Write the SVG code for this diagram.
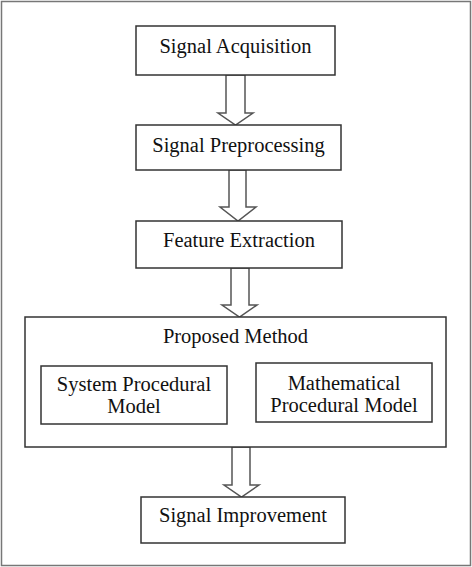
<svg xmlns="http://www.w3.org/2000/svg" width="472" height="567" viewBox="0 0 472 567">
<style>
.box{fill:#fff;stroke:#333;stroke-width:1.5}
.arr{fill:#fff;stroke:#555;stroke-width:1.5;stroke-linejoin:miter}
text{font-family:"Liberation Serif","Times New Roman",serif;font-size:20.5px;fill:#111;text-anchor:middle}
</style>
<rect x="1.5" y="1.5" width="469" height="564" fill="#fff" stroke="#777" stroke-width="1.5"/>
<g id="connectors">
<polygon class="arr" points="226,75 245,75 245,113 253,113 235.5,125 218,113 226,113"/>
<polygon class="arr" points="229,170 246,170 246,207 256,207 238,221 220,207 229,207"/>
<polygon class="arr" points="231,268 249,268 249,305 257,305 239.5,317 222,305 231,305"/>
<polygon class="arr" points="232,447 250,447 250,485 259,485 241.5,497 224,485 232,485"/>
</g>
<g id="signal-acquisition">
<rect class="box" x="136" y="26" width="199" height="49"/>
<text x="235.5" y="53">Signal Acquisition</text>
</g>
<g id="signal-preprocessing">
<rect class="box" x="136" y="125" width="205" height="45"/>
<text x="238.5" y="152">Signal Preprocessing</text>
</g>
<g id="feature-extraction">
<rect class="box" x="136" y="221" width="206" height="47"/>
<text x="239" y="247">Feature Extraction</text>
</g>
<g id="proposed-method">
<rect class="box" x="25" y="317" width="421" height="130"/>
<text x="235.5" y="343">Proposed Method</text>
</g>
<g id="system-procedural-model">
<rect class="box" x="41" y="366" width="186" height="58"/>
<text x="134" y="391">System Procedural</text>
<text x="134" y="413">Model</text>
</g>
<g id="mathematical-procedural-model">
<rect class="box" x="256" y="363" width="176" height="59"/>
<text x="344" y="390">Mathematical</text>
<text x="344" y="412">Procedural Model</text>
</g>
<g id="signal-improvement">
<rect class="box" x="141" y="497" width="204" height="46"/>
<text x="243" y="522">Signal Improvement</text>
</g>
</svg>
